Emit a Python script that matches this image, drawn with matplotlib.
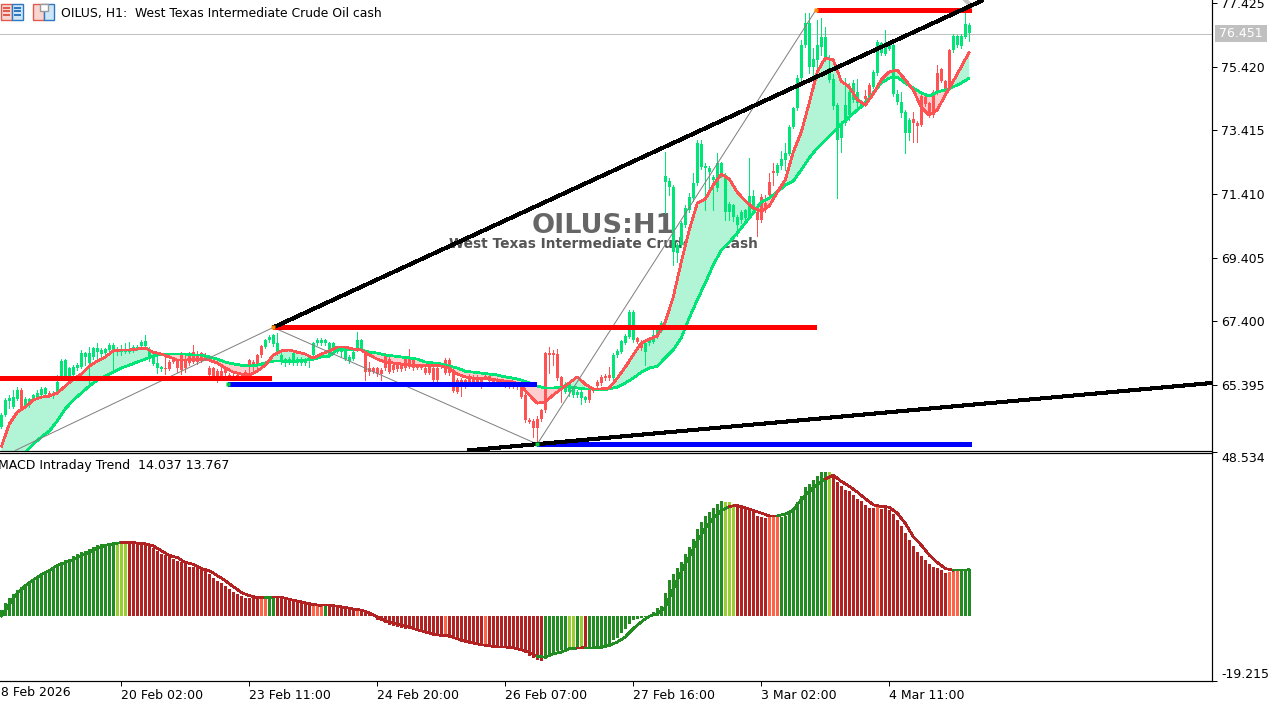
import numpy as np
import matplotlib
matplotlib.use("Agg")
import matplotlib.pyplot as plt
from matplotlib.patches import Rectangle

# ============ DATA ============
opens = [64.07,64.44,64.89,64.70,64.93,65.23,64.72,64.83,64.93,65.01,
         65.07,65.09,65.12,65.04,65.17,65.65,65.65,65.65,65.70,65.91,
         65.96,66.26,66.07,66.28,66.43,66.36,66.38,66.49,66.49,66.43,
         66.43,66.43,66.43,66.49,66.54,66.61,66.63,66.22,66.05,65.91,
         65.89,65.91,66.12,66.17,66.15,66.38,66.22,66.33,66.43,66.33,
         66.38,66.33,65.91,65.91,65.84,65.84,65.91,65.70,65.67,65.70,
         65.67,65.80,66.17,66.12,66.33,66.61,66.59,66.80,66.68,66.38,
         66.12,66.07,66.10,66.07,66.07,66.09,66.09,66.17,66.33,66.70,
         66.70,66.70,66.33,66.54,66.43,66.43,66.22,66.15,66.22,66.49,
         66.49,66.38,65.91,65.91,65.91,65.86,66.33,66.22,66.01,66.01,
         66.01,66.22,66.22,66.17,66.01,66.01,65.91,66.01,65.91,65.91,
         66.01,66.17,66.17,65.80,65.54,65.54,65.54,65.67,65.65,65.65,
         65.54,65.67,65.67,65.54,65.54,65.51,65.49,65.49,65.42,65.44,
         65.35,65.07,64.28,64.26,64.30,64.59,66.38,66.40,66.38,66.36,
         65.65,65.17,65.17,65.07,65.07,64.99,64.91,65.23,65.28,65.49,
         65.65,65.67,65.70,65.59,66.33,66.43,66.72,66.91,66.80,66.86,
         66.75,66.43,66.70,66.75,66.93,67.10,71.80,71.62,69.59,69.54,
         69.80,70.43,70.91,71.27,71.75,72.27,72.22,72.10,71.85,71.59,
         72.01,70.85,70.85,70.67,70.43,70.59,70.64,70.72,70.91,70.85,
         71.33,71.12,71.80,72.12,72.06,72.29,72.48,72.67,73.53,74.11,
         75.06,76.11,75.43,75.43,75.64,76.06,75.69,75.01,74.19,73.11,
         73.17,73.64,73.90,74.37,74.27,74.22,74.50,74.85,74.80,75.22,
         75.87,75.83,76.00,74.56,74.32,73.95,73.34,73.32,73.77,73.64,
         74.50,74.48,74.27,74.64,75.22,75.34,74.97,75.95,75.95,76.11,
         76.08,76.37,76.48]
closes = [64.44,64.91,64.96,65.01,65.23,64.65,64.93,64.93,65.07,65.14,
          65.25,65.28,65.05,65.14,65.49,66.15,66.17,65.91,65.96,66.01,
          66.38,66.38,66.40,66.54,66.54,66.49,66.51,66.65,66.65,66.49,
          66.51,66.51,66.51,66.59,66.59,66.75,66.78,66.49,66.28,66.07,
          65.96,65.88,65.89,66.12,65.91,65.86,65.91,66.07,66.12,66.12,
          66.17,66.22,65.70,65.65,65.54,65.67,65.77,65.59,65.59,65.59,
          65.63,65.70,66.01,65.96,66.01,66.33,66.82,66.91,66.96,66.70,
          66.33,66.19,66.22,66.38,66.22,66.22,66.19,66.28,66.70,66.82,
          66.82,66.80,66.70,66.70,66.49,66.49,66.49,66.28,66.43,66.80,
          66.80,65.80,65.80,65.80,65.73,65.73,65.91,65.80,65.86,65.88,
          65.88,65.91,65.96,65.91,65.93,65.93,65.77,65.77,65.54,65.54,
          65.96,65.77,65.75,65.20,65.17,65.31,65.33,65.46,65.49,65.49,
          65.31,65.63,65.52,65.49,65.49,65.44,65.38,65.35,65.35,65.31,
          65.01,64.28,64.23,64.02,64.02,64.30,64.59,66.33,66.33,65.59,
          65.33,65.43,65.43,65.25,65.17,65.17,65.01,64.91,65.20,65.35,
          65.44,65.59,65.59,66.33,66.47,66.78,66.93,67.70,67.70,66.75,
          66.54,66.70,66.86,66.96,67.22,67.34,71.98,71.83,71.64,69.80,
          70.49,70.96,71.33,71.75,73.01,72.99,72.30,72.22,71.94,72.38,
          72.38,72.01,71.10,71.06,70.70,70.85,70.89,71.35,71.35,70.59,
          70.59,70.91,71.38,72.06,72.33,72.50,72.69,73.53,74.11,75.06,
          76.11,76.81,76.81,75.66,76.11,76.37,76.37,75.37,75.04,74.22,
          73.64,74.22,74.64,74.90,74.64,74.27,74.40,74.50,75.27,76.21,
          76.16,76.06,76.11,76.11,74.58,74.32,74.00,73.74,73.64,73.55,
          73.59,74.25,73.90,73.90,74.64,74.98,74.71,74.74,76.39,76.39,
          76.39,76.77,76.74]
highs = [64.49,64.96,65.07,65.23,65.33,65.28,65.01,64.99,65.09,65.23,
         65.31,65.31,65.20,65.20,65.70,66.19,66.22,65.96,66.01,66.07,
         66.49,66.43,66.59,66.59,66.70,66.54,66.54,66.70,66.72,66.59,
         66.65,66.70,66.75,66.65,66.65,66.82,66.96,66.59,66.33,66.33,
         66.00,66.28,66.17,66.22,66.22,66.43,66.33,66.43,66.65,66.45,
         66.43,66.38,65.98,65.96,65.90,65.91,65.95,65.75,65.72,65.75,
         65.72,65.85,66.22,66.17,66.36,66.64,66.85,66.95,67.00,67.01,
         66.40,66.25,66.28,66.43,66.28,66.28,66.24,66.33,66.75,66.87,
         66.87,66.85,66.75,66.75,66.52,66.52,66.54,66.33,66.47,67.07,
         66.84,66.43,66.12,65.96,65.96,65.91,66.38,66.28,66.07,66.05,
         66.05,66.26,66.51,66.22,66.05,66.05,65.96,66.07,65.96,65.96,
         66.05,66.24,66.24,65.85,65.60,65.60,65.58,65.72,65.70,65.70,
         65.58,65.72,65.72,65.59,65.59,65.56,65.54,65.54,65.47,65.49,
         65.54,65.12,64.33,64.31,64.40,64.64,66.43,66.59,66.49,66.51,
         65.67,65.48,65.48,65.30,65.22,65.22,65.05,65.28,65.32,65.54,
         65.70,65.72,65.96,66.38,66.52,66.82,66.98,67.75,67.75,66.90,
         66.80,66.75,66.90,67.22,67.28,67.40,72.75,71.91,71.70,69.85,
         70.55,71.06,71.45,72.06,73.11,73.11,72.38,72.30,72.00,72.69,
         72.43,72.06,71.15,71.11,70.75,70.90,70.94,72.54,71.54,70.95,
         71.40,71.38,72.06,72.38,72.38,72.78,73.01,73.59,74.16,75.16,
         76.27,77.11,77.11,76.01,76.90,76.95,76.69,75.79,75.20,74.27,
         73.70,75.06,74.90,75.01,75.03,74.37,74.69,74.90,75.32,76.27,
         76.22,76.58,76.21,76.16,74.69,74.64,74.05,73.80,74.00,73.70,
         74.55,74.53,74.32,74.69,75.48,75.39,75.02,76.00,76.45,76.43,
         76.45,77.11,76.79]
lows = [64.02,64.41,64.65,64.65,64.91,64.62,64.68,64.70,64.91,64.96,
        65.01,65.04,65.01,64.99,65.12,65.54,65.63,65.59,65.65,65.86,
        65.91,66.01,65.35,66.22,66.22,66.28,66.33,66.43,65.88,66.33,
        66.33,66.40,66.38,66.43,66.49,66.57,66.59,66.15,66.01,65.75,
        65.82,65.73,65.86,66.07,65.80,65.73,65.80,66.01,66.07,66.05,
        66.12,66.17,65.63,65.60,65.49,65.60,65.70,65.55,65.55,65.55,
        65.58,65.65,65.75,65.80,65.90,66.28,66.55,66.75,66.62,66.33,
        66.05,66.00,66.05,66.01,66.01,66.03,66.03,65.96,66.28,66.65,
        66.65,66.65,66.28,66.49,66.38,66.28,66.17,66.07,66.17,66.45,
        66.45,65.54,65.70,65.75,65.68,65.54,65.85,65.75,65.80,65.84,
        65.84,65.86,65.91,65.86,65.88,65.88,65.72,65.72,65.49,65.49,
        65.91,65.72,65.70,65.15,65.12,65.04,65.28,65.40,65.44,65.44,
        65.28,65.58,65.47,65.42,65.42,65.39,65.33,65.30,65.30,65.26,
        64.96,64.23,64.18,63.73,63.56,64.25,64.54,65.75,66.01,65.55,
        64.86,65.12,65.05,65.02,65.02,64.78,64.86,64.86,65.16,65.22,
        65.40,65.55,65.55,65.55,66.28,66.38,66.68,66.86,66.75,66.70,
        66.50,66.01,66.65,66.70,66.88,67.05,70.80,71.38,69.17,69.28,
        69.75,70.38,70.85,71.20,71.70,72.20,70.91,71.60,70.91,71.50,
        71.95,70.59,70.60,70.55,70.07,70.48,70.59,70.65,70.85,70.09,
        70.54,70.85,71.33,71.70,72.00,72.20,72.17,72.64,73.48,74.05,
        75.00,76.05,75.22,75.16,75.37,75.79,75.60,74.95,74.10,71.27,
        72.75,73.58,73.75,74.30,74.15,74.11,74.20,74.45,74.75,75.15,
        75.80,75.78,75.95,74.50,74.25,73.85,72.69,73.11,73.06,73.06,
        73.54,74.20,73.85,73.85,74.58,74.93,74.65,74.69,75.90,76.06,
        76.03,76.32,76.25]

# moving averages and macd signal, read every 2nd bar plus the last one
line_index = list(range(0, 241, 2)) + [242]
ma_fast = [63.43,64.15,64.53,64.69,64.91,65.00,65.04,65.13,65.35,65.57,65.73,65.98,66.14,66.27,66.46,66.49,66.49,66.52,66.55,66.42,66.36,
           66.27,66.17,66.17,66.20,66.20,66.17,66.08,65.92,65.79,65.73,65.70,65.82,66.01,66.33,66.46,66.49,66.42,66.36,66.23,66.36,66.46,
           66.58,66.58,66.52,66.49,66.33,66.20,66.11,66.08,66.05,66.01,66.01,66.01,66.01,65.98,65.92,65.73,65.64,65.60,65.60,65.57,
           65.54,65.51,65.48,65.35,65.07,64.81,64.85,65.07,65.26,65.45,65.64,65.41,65.26,65.26,65.29,65.60,65.95,66.33,66.71,66.83,
           66.93,67.37,68.16,69.26,70.27,71.12,71.25,71.69,72.04,71.88,71.47,71.19,70.97,70.87,71.03,71.47,71.85,72.73,
           73.36,74.28,75.26,75.70,75.64,74.97,74.79,74.38,74.22,74.56,75.01,75.26,75.32,75.01,74.69,74.15,73.90,74.06,74.53,74.97,75.42,75.89]
ma_slow = [62.64,62.86,63.08,63.27,63.52,63.74,63.93,64.25,64.63,64.91,65.13,65.35,65.54,65.67,65.79,65.92,66.01,66.11,66.20,66.30,66.36,
           66.36,66.36,66.36,66.33,66.33,66.27,66.20,66.11,66.05,66.01,65.98,66.01,66.08,66.14,66.14,66.11,66.14,66.17,66.20,66.27,66.30,
           66.49,66.52,66.49,66.49,66.42,66.39,66.33,66.30,66.27,66.24,66.20,66.11,66.08,66.05,65.98,65.92,65.82,65.79,65.76,65.73,
           65.70,65.64,65.60,65.54,65.45,65.35,65.29,65.29,65.32,65.32,65.29,65.26,65.26,65.23,65.26,65.32,65.45,65.60,65.79,65.92,
           65.98,66.24,66.49,66.87,67.50,68.07,68.60,69.17,69.64,69.89,70.18,70.50,70.81,71.16,71.28,71.47,71.69,71.82,
           72.17,72.55,72.86,73.11,73.36,73.62,73.84,74.06,74.28,74.60,74.91,75.07,75.10,74.91,74.75,74.60,74.50,74.63,74.69,74.79,74.91,75.07]
macd_signal = [0.00,3.58,6.77,8.96,10.75,12.24,13.53,15.02,15.92,16.72,17.91,19.00,20.20,21.00,21.49,21.79,21.89,21.69,21.49,20.90,19.40,
               18.01,17.41,15.92,15.42,14.13,13.53,12.04,10.55,8.76,7.06,6.07,5.57,5.47,5.57,5.57,4.98,4.48,3.98,3.48,3.18,3.18,
               2.99,2.59,2.09,1.79,1.00,-0.20,-1.39,-1.99,-2.69,-3.28,-3.98,-4.68,-5.37,-5.67,-5.87,-6.67,-7.36,-7.96,-8.46,-8.76,
               -9.15,-9.15,-9.35,-9.95,-10.65,-11.94,-12.14,-11.14,-10.65,-9.65,-9.45,-9.35,-9.35,-9.25,-8.66,-7.66,-6.17,-3.68,-1.69,0.00,
               0.70,2.69,8.16,13.13,17.61,22.29,26.07,29.05,31.24,32.54,32.84,32.14,31.34,30.55,29.75,29.75,30.25,31.54,
               34.53,37.01,39.00,40.70,41.79,40.00,38.51,36.82,34.83,33.03,32.54,32.34,30.55,27.56,23.58,21.09,18.11,15.92,14.13,13.63,13.63,13.77]

macd_hist = [1.79,3.78,5.27,6.47,7.76,8.56,9.55,10.45,10.95,11.94,
             12.74,13.43,13.73,13.93,14.53,16.02,16.52,17.01,17.71,18.41,
             18.91,19.40,20.00,20.50,20.99,21.29,21.49,21.69,21.89,21.69,
             21.69,21.59,21.69,21.69,21.69,21.49,20.99,20.70,20.20,19.40,
             18.51,18.01,17.41,16.92,16.42,15.92,15.42,14.73,14.63,14.43,
             13.73,13.43,12.44,11.44,10.55,9.95,9.05,8.06,7.26,6.57,
             5.97,5.47,5.47,5.27,5.27,5.27,5.27,5.47,5.47,5.27,
             5.07,4.98,4.78,4.48,4.18,3.88,3.58,3.18,2.99,2.99,
             2.99,2.99,3.18,3.18,2.99,2.99,2.59,2.29,1.99,1.79,
             1.79,1.29,0.80,0.30,-1.00,-1.49,-1.99,-2.69,-2.89,-3.18,
             -3.48,-3.68,-3.88,-3.98,-4.38,-4.38,-4.68,-4.98,-5.67,-5.87,
             -5.97,-5.97,-6.37,-6.87,-7.16,-7.66,-7.96,-8.16,-8.16,-8.46,
             -8.86,-8.86,-8.66,-8.86,-9.15,-9.35,-9.45,-9.45,-9.45,-9.65,
             -10.15,-10.85,-11.94,-12.44,-12.94,-13.33,-12.64,-11.64,-10.95,-10.35,
             -9.95,-9.65,-9.35,-9.35,-9.15,-9.15,-9.45,-9.15,-9.15,-9.15,
             -8.96,-8.66,-8.16,-7.16,-6.37,-4.98,-3.68,-2.19,-1.19,-0.70,
             -0.50,-0.20,0.30,1.39,2.39,2.89,6.97,10.65,12.44,14.33,
             16.12,18.41,20.50,22.89,25.87,27.96,29.75,30.94,32.14,33.33,
             34.23,33.93,33.93,33.33,33.03,32.24,31.84,31.54,31.04,29.85,
             29.55,29.15,29.55,29.55,29.55,29.55,29.75,30.94,32.14,33.73,
             35.72,38.31,39.30,40.50,41.49,42.88,42.88,42.69,41.79,39.70,
             38.51,37.31,37.01,36.02,34.83,34.03,33.03,32.14,31.94,32.24,
             31.84,31.94,31.54,30.35,28.56,26.87,24.78,22.59,20.80,19.10,
             17.81,16.62,15.62,14.63,14.33,13.63,12.74,13.13,13.43,13.43,
             13.83,14.13,14.04]
macd_color_names = ["forestgreen","yellowgreen","firebrick","tomato","forestgreen","firebrick","tomato","forestgreen",
                    "firebrick","tomato","firebrick","tomato","firebrick","tomato","firebrick","forestgreen",
                    "yellowgreen","forestgreen","yellowgreen","firebrick","forestgreen","yellowgreen","firebrick",
                    "tomato","forestgreen","yellowgreen","firebrick","tomato","firebrick","tomato","forestgreen"]
macd_color_runs = [29,3,33,2,2,9,3,1,7,1,21,1,9,1,14,6,2,1,1,1,34,3,8,3,12,1,11,1,17,3,3]

price_ticks = [77.425, 75.420, 73.415, 71.410, 69.405, 67.400, 65.395]
macd_ticks = [48.534, -19.215]
time_ticks = [30, 62, 94, 126, 158, 190, 222]
time_labels = ["20 Feb 02:00", "23 Feb 11:00", "24 Feb 20:00", "26 Feb 07:00", "27 Feb 16:00", "3 Mar 02:00", "4 Mar 11:00"]
bid_price = 76.451

# drawn objects on the chart: (bar from, bar to, price)
red_levels = [(-1, 67.5, 65.59), (68, 203.75, 67.20), (204, 242.5, 77.23)]
blue_levels = [(56.75, 133.75, 65.43), (134, 242.5, 63.52)]
trend_lines = [((68, 245.5), (67.20, 77.53)), ((116.5, 302.75), (63.32, 65.45))]
zigzag_bars = [3.5, 68, 134, 203.75]
zigzag_prices = [63.32, 67.20, 63.52, 77.23]

# ============ SETTINGS ============
W, H = 1281, 703
PX = 0.72  # one pixel in points at dpi 100
GREEN = "#00E676"
RED = "#FF5252"

plt.rcParams["font.family"] = "DejaVu Sans"
plt.rcParams["font.size"] = 9

fig = plt.figure(figsize=(W / 100, H / 100), dpi=100, facecolor="white")
ax1 = fig.add_axes([0, 1 - 450.5 / H, 1212 / W, 450.5 / H])
ax2 = fig.add_axes([0, 1 - 681 / H, 1212 / W, 228.5 / H])


def fx(x):
    return x / W


def fy(y):
    return 1 - y / H


for ax in (ax1, ax2):
    # bars sit 4 px apart, the small offset keeps them on whole pixels
    ax.set_xlim(-0.3125, 302.6875)
    ax.yaxis.tick_right()
    ax.spines["left"].set_visible(False)
    ax.spines["top"].set_visible(False)
    for s in ("right", "bottom"):
        ax.spines[s].set_linewidth(PX * 1.2)
    ax.tick_params(axis="y", length=3.6, width=PX, pad=3, labelsize=9)
ax2.spines["top"].set_visible(True)
ax2.spines["top"].set_linewidth(PX * 1.2)

# ============ PRICE PANEL ============
ax1.set_ylim(77.53 - 450.5 / 31.7, 77.53)
ax1.set_xticks([])
ax1.set_yticks(price_ticks)
ax1.set_yticklabels([f"{v:.3f}" for v in price_ticks])

ax1.axhline(bid_price, color="#C0C0C0", lw=PX, zorder=1)
ax1.text(fx(603), fy(226), "OILUS:H1", transform=fig.transFigure, ha="center", va="center",
         fontsize=19.5, fontweight="bold", color="#666666", zorder=1)
ax1.text(fx(603.5), fy(244), "West Texas Intermediate Crude Oil cash", transform=fig.transFigure, ha="center",
         va="center", fontsize=9.9, fontweight="bold", color="#555555", zorder=1)

line_x = np.array(line_index)
fast = np.array(ma_fast)
slow = np.array(ma_slow)
ax1.fill_between(line_x, fast, slow, where=fast >= slow, interpolate=True, color="#B2F5D6", lw=0, zorder=2)
ax1.fill_between(line_x, fast, slow, where=fast <= slow, interpolate=True, color="#FFCDCD", lw=0, zorder=2)

bars = np.arange(len(closes))
o = np.array(opens)
c = np.array(closes)
up = c >= o
colors = [GREEN if u else RED for u in up]
ax1.vlines(bars, lows, highs, colors=colors, lw=PX, zorder=3, antialiased=False)
ax1.bar(bars, np.maximum(np.abs(c - o), 0.03), bottom=np.minimum(o, c), width=0.75, color=colors,
        lw=0, zorder=3, antialiased=False)

ax1.plot(line_x, slow, color=GREEN, lw=1.25, zorder=4, solid_capstyle="butt", antialiased=False)
ax1.plot(line_x, fast, color=RED, lw=1.25, zorder=4, solid_capstyle="butt", antialiased=False)

ax1.plot(zigzag_bars, zigzag_prices, color="#808080", lw=PX, zorder=5)
for x0, x1, p in red_levels:
    ax1.plot([x0, x1], [p, p], color="#FF0000", lw=3.6, zorder=6, solid_capstyle="butt", antialiased=False)
for x0, x1, p in blue_levels:
    ax1.plot([x0, x1], [p, p], color="#0000FF", lw=3.6, zorder=6, solid_capstyle="butt", antialiased=False)
for xs, ys in trend_lines:
    ax1.plot(xs, ys, color="black", lw=2.2, zorder=7, solid_capstyle="butt", antialiased=False)
ax1.plot([zigzag_bars[1], zigzag_bars[3]], [zigzag_prices[1], zigzag_prices[3]], ls="none", marker="s",
         ms=3, mfc="#FF8C00", mec="none", zorder=8)
ax1.plot([56.75, zigzag_bars[2]], [blue_levels[0][2], zigzag_prices[2]], ls="none", marker="s",
         ms=3, mfc="#00D040", mec="none", zorder=8)
ax1.plot([241, 242.5], [77.53, 77.34], color="#C4C4C4", lw=3, zorder=6)

# bid label on the scale
fig.add_artist(Rectangle((fx(1215), fy(42)), 52 / W, 17 / H, transform=fig.transFigure, fc="#C0C0C0", ec="none"))
fig.text(fx(1241), fy(33.5), f"{bid_price:.3f}", ha="center", va="center", color="white", fontsize=9)

# ============ MACD PANEL ============
ax2.set_ylim(macd_ticks[1], macd_ticks[0])

macd_colors = []
for name, run in zip(macd_color_names, macd_color_runs):
    macd_colors += [name] * run
ax2.bar(np.arange(len(macd_hist)), macd_hist, width=0.75, color=macd_colors, lw=0, antialiased=False, zorder=2)

for j in range(len(line_index) - 1):
    name = macd_colors[line_index[j + 1]]
    seg = "forestgreen" if name in ("forestgreen", "yellowgreen") else "firebrick"
    ax2.plot(line_index[j:j + 2], macd_signal[j:j + 2], color=seg, lw=1.25, zorder=3,
             solid_capstyle="round", antialiased=False)

ax2.set_yticks(macd_ticks)
ax2.set_yticklabels([f"{v:.3f}" for v in macd_ticks])
labels = ax2.get_yticklabels()
labels[0].set_va("top")
labels[1].set_va("bottom")

ax2.set_xticks(time_ticks)
ax2.set_xticklabels(time_labels, ha="left")
ax2.tick_params(axis="x", length=3.6, width=PX, pad=2, labelsize=9)
fig.text(fx(-7), fy(693), "18 Feb 2026", ha="left", va="center", fontsize=9)

fig.text(fx(-2), fy(465), "MACD Intraday Trend  14.037 13.767", ha="left", va="center", fontsize=9)

# ============ HEADER ICONS AND TITLE ============
fig.text(fx(61), fy(13), "OILUS, H1:  West Texas Intermediate Crude Oil cash", ha="left", va="center", fontsize=8.9)
for x, w, col, edge in [(1, 11, "#F9D5D0", "#E05A4E"), (12, 11, "#CFE6F8", "#2E78C0"),
                        (33, 11, "#F9D5D0", "#E05A4E"), (44, 10, "#CFE6F8", "#2E78C0")]:
    fig.add_artist(Rectangle((fx(x), fy(20)), w / W, 16 / H, transform=fig.transFigure, fc=col, ec=edge, lw=1))
for y in (9, 12, 16):
    for x, w, edge in [(3, 7, "#E05A4E"), (14, 7, "#2E78C0")]:
        fig.add_artist(Rectangle((fx(x), fy(y)), w / W, 1.5 / H, transform=fig.transFigure, fc=edge, ec="none"))
fig.add_artist(Rectangle((fx(40), fy(11)), 8 / W, 7 / H, transform=fig.transFigure, fc="white", ec="#9A9A9A", lw=1))

fig.savefig("out.png", dpi=100)
